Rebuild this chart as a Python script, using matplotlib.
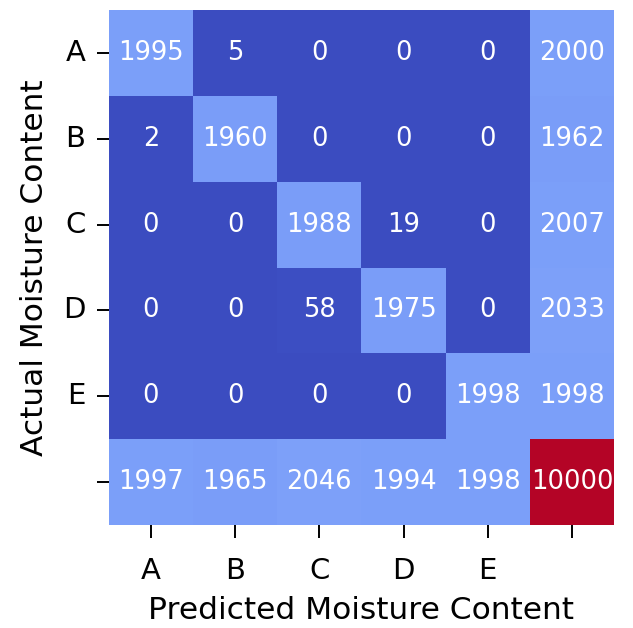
import numpy as np
import matplotlib
matplotlib.use("Agg")
import matplotlib.pyplot as plt
import seaborn as sns

# confusion matrix with row / column totals
classes = ["A", "B", "C", "D", "E"]
counts = [
    [1995, 5, 0, 0, 0],
    [2, 1960, 0, 0, 0],
    [0, 0, 1988, 19, 0],
    [0, 0, 58, 1975, 0],
    [0, 0, 0, 0, 1998],
]
row_totals = [2000, 1962, 2007, 2033, 1998]
col_totals = [1997, 1965, 2046, 1994, 1998]
grand_total = 10000

cm = np.array(counts)
table = np.zeros((6, 6), dtype=int)
table[:5, :5] = cm
table[:5, 5] = row_totals
table[5, :5] = col_totals
table[5, 5] = grand_total

ticks = classes + [""]

fig = plt.figure(figsize=(6.33, 6.28), dpi=100)
ax = fig.add_axes([0.172, 0.164, 0.798, 0.820])
sns.heatmap(table, annot=True, fmt="d", cmap="coolwarm", vmin=0, vmax=grand_total,
            cbar=False, xticklabels=ticks, yticklabels=ticks, ax=ax,
            annot_kws={"fontsize": 18.5, "color": "white"})
ax.tick_params(axis="both", labelsize=21, length=9, width=1.4)
ax.tick_params(axis="x", pad=14)
ax.tick_params(axis="y", pad=8)
ax.set_yticklabels(ticks, rotation=0)
ax.set_xlabel("Predicted Moisture Content", fontsize=22.5, labelpad=8)
ax.set_ylabel("Actual Moisture Content", fontsize=22.5, labelpad=10)
fig.savefig("out.png", dpi=100)
